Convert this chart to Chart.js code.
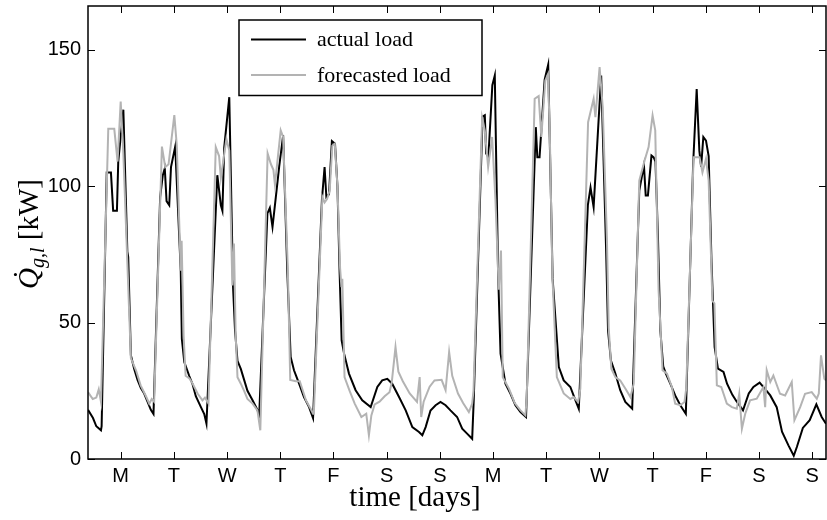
<!DOCTYPE html>
<html>
<head>
<meta charset="utf-8">
<script src="https://cdn.jsdelivr.net/npm/chart.js@4.4.1/dist/chart.umd.min.js"></script>
<style>
  html, body { margin: 0; padding: 0; background: #fff; }
  #wrap { width: 827px; height: 520px; }
</style>
</head>
<body>
<div id="wrap"><canvas id="loadChart" width="827" height="520"></canvas></div>
<script>
// time axis in hours, Monday 00:00 = 0; day labels sit at noon
const dayLabels = ['M', 'T', 'W', 'T', 'F', 'S', 'S', 'M', 'T', 'W', 'T', 'F', 'S', 'S'];
const dayHours = [12, 36, 60, 84, 108, 132, 156, 180, 204, 228, 252, 276, 300, 324];
const yTicks = [0, 50, 100, 150];

const actualHours = [
  -2.75, -0.5, 1, 3.1, 3.4, 5.7, 7.6, 8.6, 10.3, 10.9, 13.2, 15, 15.4, 16.6, 18.1, 19.6, 21.1, 22.6, 24.1, 25.6, 26.8,
  29.8, 31, 31.9, 32.7, 33.9, 34.7, 36.6, 39.1, 39.6, 40.7, 42.9, 44.4, 45.9, 48.2, 49.7, 50.7,
  55.6, 57.2, 57.9, 58.7, 61, 62.7, 63.6, 64.7, 66.2, 67.7, 69.2, 71.5, 73.7, 74.5,
  78.2, 79.3, 80.5, 82, 83.5, 85.3, 87.2, 88.7, 90.2, 92.5, 94.7, 97, 98.8,
  102.8, 104, 104.8, 106, 107.3, 108.7, 109.8, 110.8, 111.7, 112.8, 115, 118, 121, 124.8,
  127.8, 130, 132.3, 134.5, 137.6, 140.6, 143.6, 146.6, 148.1, 149.6, 151.8, 154.1, 156.3, 158.6, 160.8, 163.8, 166.1, 168.3, 170.6, 171.3,
  175.3, 176.3, 176.9, 177.9, 179.7, 180.8, 182.3, 183.4, 185.6, 187.9, 190.1, 192.4, 194.9,
  199.3, 200, 201, 203.3, 204.9, 206.9, 209.7, 211.9, 214.9, 216.9, 218.7,
  222.8, 224, 225.4, 228.8, 231, 231.9, 233.2, 235.2, 237.4, 239.7, 242.8,
  246, 248.1, 248.9, 249.9, 251.5, 252.5, 253.3, 254.4, 255.5, 256.8, 258, 260, 262.2, 264.5, 267,
  270.3, 271.9, 273.1, 273.9, 274.9, 276.1, 277.3, 278.6, 280, 281.5, 284, 285.6, 288, 290, 292.8,
  295.4, 297.5, 300.3, 302.9, 305.1, 308, 310.4, 313.3, 315.7, 317.1, 319.8, 322.9, 325.9, 328.3, 330.25
];
const actualLoad = [
  18, 15, 12, 10.5, 12, 105, 105, 91, 91, 109, 128, 76, 74, 38, 33, 29, 26, 24, 21, 18, 16.5,
  96, 104, 106.5, 94.5, 93, 107, 114.5, 69, 44, 35.5, 30.5, 27.5, 23, 19, 16.5, 13,
  104, 93, 91, 114, 132.6, 63, 47, 36, 33, 29, 25, 21.5, 18, 16,
  90, 92, 85, 96, 107, 118.6, 68, 37.4, 32.5, 27.6, 22.7, 19, 15,
  95, 107, 96, 97, 116.5, 115.5, 100, 68, 43.5, 38.6, 31.3, 25.2, 21.5, 19,
  26.4, 28.8, 29.4, 27.6, 22.7, 17.8, 11.7, 9.9, 8.7, 11.7, 17.8, 19.7, 20.9, 19.7, 17.8, 15.4, 11.1, 9.3, 7.4, 21.5,
  125.5, 126, 112, 110.6, 137, 140.5, 68, 38.6, 27.6, 23.9, 19.7, 17.2, 15.4,
  121.6, 110.6, 110.6, 139, 144.5, 66, 33.7, 28.8, 26.4, 22.1, 18.4,
  93, 99.5, 92.3, 140.5, 77.7, 47.1, 36.1, 31.3, 25.2, 20.9, 18.4,
  98.4, 107.6, 96.6, 96.6, 111.2, 110.5, 109, 82, 47.1, 34, 31.3, 27.6, 23.3, 19.7, 16.6,
  108, 135.6, 113, 107, 118, 116.7, 111, 72, 41, 33.1, 31.9, 27.6, 23.5, 21, 17.8,
  24, 26.4, 28, 25.5, 23.3, 19, 10, 5, 1.2, 4.4, 11.4, 14.2, 20, 15.4, 12.9
];

const forecastHours = [
  -2.75, -0.6, 1, 2.1, 3.1, 6.4, 9.1, 10.6, 12, 13.2, 15, 16.6, 18.9, 21, 23.4, 24.9, 26, 27.1,
  30.6, 32.1, 33.6, 36.2, 37.3, 39.1, 39.5, 40.4, 41.3, 43, 44.5, 46.7, 48.9, 50, 51.6,
  54.9, 56.4, 57.2, 59.7, 61, 62.4, 63.1, 63.9, 64.7, 66.2, 67.7, 69.2, 71.5, 73.7, 75,
  78.3, 79.8, 80.9, 81.6, 84.2, 85.3, 87.4, 88.5, 91, 92.8, 95.6, 97.7, 98.8,
  99.2, 103, 104, 105.1, 106.3, 107.5, 108.6, 109.8, 111, 111.6, 112, 113, 115.3, 117.6, 120.6, 122.8, 124, 125.1,
  126.6, 128.8, 131.1, 133.3, 134.3, 136, 137.3, 139.3, 142.4, 145.7, 146.9, 147.6, 148.7, 151.4, 153.6, 156.8,
  158.6, 160.2, 161.6, 164.2, 166.5, 169.1, 170.6, 171.2,
  175.1, 176.3, 177.8, 179.6, 181.1, 182.6, 183.6, 184.4, 187.2, 189.8, 192.4, 194.6, 195.2,
  198.8, 200.6, 201.8, 203.6, 204.8, 205.6, 206.8, 208.8, 211.9, 214.9, 216.4, 218.4, 219.4,
  222.9, 225.4, 226.2, 228.1, 229.5, 231.4, 232.2, 233.4, 235.2, 237.4, 239.7, 242, 243.5,
  246, 248.4, 250.2, 252, 253.2, 254.7, 256.5, 258.5, 260.7, 262.2, 264.5, 266.4, 267.2,
  270.5, 273.2, 274.5, 276.1, 277.3, 279, 279.9, 281, 283, 285.5, 287.8, 290, 291.1, 292.3, 293.8,
  296, 299, 302, 302.8, 303.5, 305.1, 306.5, 309.5, 311.8, 314.8, 316, 318.6, 320.8, 323.8, 326.1, 327, 328, 329.5, 330.25
];
const forecastLoad = [
  24.5, 22, 22.5, 25.5, 21, 121, 121, 109, 131, 112, 72, 37, 32.5, 27, 23, 20.3, 22, 21,
  114.5, 107, 108, 126, 115, 69, 80, 45, 30.5, 29.5, 27.6, 24, 21.5, 22.5, 20.3,
  114.3, 111, 103, 117.3, 113, 63.6, 79, 45, 30, 27.6, 25, 22, 20.3, 17.8, 10.5,
  112, 108, 106, 100.5, 120.4, 118, 70, 29, 28.5, 28.5, 21.5, 18.4, 16.6,
  18, 96, 94, 95.3, 98.4, 114.8, 115.5, 100, 70, 63, 66, 30, 25, 20.3, 15.4, 16.6, 8.7, 16,
  20, 21, 23, 24.5, 28, 41, 32, 28.5, 24, 20.9, 30, 15.4, 21, 26.5, 28.8, 29,
  25.2, 39.2, 30.5, 24, 20.5, 17.2, 20.3, 25,
  125, 120.4, 107, 118, 95, 62, 76.4, 30, 25.8, 20.5, 17.8, 16, 22,
  132, 133, 118, 138.7, 141, 120, 67, 30, 24, 22, 22.7, 20.9, 25.8,
  123.4, 132, 125.3, 143.6, 129, 80.7, 48, 33.1, 30, 28.8, 25.8, 22.7, 27.6,
  102, 109.4, 114.3, 125.9, 120.4, 62, 32.5, 31.3, 26.4, 20.3, 19.7, 20.9, 26,
  110.6, 110.6, 105, 110, 102, 58, 57, 27, 26.4, 20.3, 19, 18.4, 23.9, 11.1, 16.6,
  21.5, 22.1, 26.4, 19, 32.5, 28.2, 30.6, 23.9, 23.3, 28.2, 14.2, 19, 23.9, 24.5, 22.1, 24, 38, 29.4, 28.8
];

const black = '#000000';
const grey = 'rgb(179,179,179)';
const serif = '"Liberation Serif", "Times New Roman", serif';
const sans = '"Liberation Sans", Arial, sans-serif';

function toPoints(xs, ys) {
  return xs.map((x, i) => ({ x: x, y: ys[i] }));
}

// box, inward ticks, legend and axis titles in the Matlab style
const matlabFrame = {
  id: 'matlabFrame',
  afterDraw(chart) {
    const ctx = chart.ctx;
    const a = chart.chartArea;
    const xs = chart.scales.x;
    const ys = chart.scales.y;
    ctx.save();

    ctx.strokeStyle = black;
    ctx.lineWidth = 1;
    ctx.beginPath();
    dayHours.forEach(h => {
      const px = Math.round(xs.getPixelForValue(h)) + 0.5;
      ctx.moveTo(px, a.bottom); ctx.lineTo(px, a.bottom - 7);
      ctx.moveTo(px, a.top); ctx.lineTo(px, a.top + 7);
    });
    yTicks.forEach(v => {
      const py = Math.round(ys.getPixelForValue(v)) + 0.5;
      ctx.moveTo(a.left, py); ctx.lineTo(a.left + 7, py);
      ctx.moveTo(a.right, py); ctx.lineTo(a.right - 7, py);
    });
    ctx.stroke();

    ctx.lineWidth = 1.5;
    ctx.strokeRect(a.left, a.top, a.right - a.left, a.bottom - a.top);

    // legend
    const lx = 239, ly = 20, lw = 243, lh = 75.5;
    ctx.fillStyle = '#fff';
    ctx.fillRect(lx, ly, lw, lh);
    ctx.strokeRect(lx, ly, lw, lh);
    const rows = [
      { text: 'actual load', color: black, y: 39.5 },
      { text: 'forecasted load', color: grey, y: 75 }
    ];
    ctx.font = '22px ' + serif;
    ctx.textBaseline = 'middle';
    ctx.textAlign = 'left';
    rows.forEach(r => {
      ctx.strokeStyle = r.color;
      ctx.lineWidth = 2;
      ctx.beginPath();
      ctx.moveTo(251, r.y); ctx.lineTo(306, r.y);
      ctx.stroke();
      ctx.fillStyle = black;
      ctx.fillText(r.text, 317, r.y + 1);
    });

    // x title
    ctx.fillStyle = black;
    ctx.font = '29px ' + serif;
    ctx.textAlign = 'center';
    ctx.textBaseline = 'alphabetic';
    ctx.fillText('time [days]', 415, 506);

    // y title: Q-dot with subscript g,l and unit
    ctx.translate(38, 234);
    ctx.rotate(-Math.PI / 2);
    const qFont = 'italic 29px ' + serif;
    const subFont = 'italic 20px ' + serif;
    const unitFont = '29px ' + serif;
    ctx.font = qFont; const wQ = ctx.measureText('Q').width;
    ctx.font = subFont; const wSub = ctx.measureText('g,l').width;
    ctx.font = unitFont; const wUnit = ctx.measureText(' [kW]').width;
    let x0 = -(wQ + wSub + wUnit) / 2;
    ctx.textAlign = 'left';
    ctx.font = qFont;
    ctx.fillText('Q', x0, 0);
    ctx.textAlign = 'center';
    ctx.fillText('\u02D9', x0 + wQ * 0.6, -4);
    ctx.textAlign = 'left';
    x0 += wQ;
    ctx.font = subFont;
    ctx.fillText('g,l', x0, 6);
    x0 += wSub;
    ctx.font = unitFont;
    ctx.fillText(' [kW]', x0, 0);

    ctx.restore();
  }
};

new Chart(document.getElementById('loadChart'), {
  type: 'line',
  data: {
    datasets: [
      {
        label: 'forecasted load',
        data: toPoints(forecastHours, forecastLoad),
        borderColor: grey,
        borderWidth: 2,
        pointRadius: 0,
        tension: 0,
        order: 0
      },
      {
        label: 'actual load',
        data: toPoints(actualHours, actualLoad),
        borderColor: black,
        borderWidth: 2,
        pointRadius: 0,
        tension: 0,
        order: 1
      }
    ]
  },
  options: {
    responsive: false,
    animation: false,
    events: [],
    layout: { padding: { top: 6, right: 1, bottom: 0, left: 0 } },
    plugins: {
      legend: { display: false },
      tooltip: { enabled: false }
    },
    scales: {
      x: {
        type: 'linear',
        min: -2.75,
        max: 330.25,
        afterBuildTicks: s => { s.ticks = dayHours.map(v => ({ value: v })); },
        afterFit: s => { s.height = 61; s.paddingLeft = 0; s.paddingRight = 0; },
        grid: { display: false, drawTicks: false, tickLength: 0 },
        border: { display: false },
        ticks: {
          autoSkip: false,
          maxRotation: 0,
          padding: 5,
          color: black,
          font: { family: sans, size: 20 },
          callback: (v, i) => dayLabels[i]
        }
      },
      y: {
        min: 0,
        max: 166,
        afterBuildTicks: s => { s.ticks = yTicks.map(v => ({ value: v })); },
        afterFit: s => { s.width = 88; s.paddingTop = 0; s.paddingBottom = 0; },
        grid: { display: false, drawTicks: false, tickLength: 0 },
        border: { display: false },
        ticks: {
          padding: 7,
          color: black,
          font: { family: sans, size: 20 },
          callback: v => v
        }
      }
    }
  },
  plugins: [matlabFrame]
});
</script>
</body>
</html>
